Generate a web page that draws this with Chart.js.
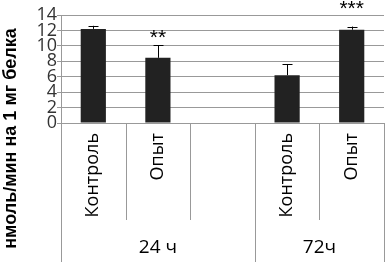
<!DOCTYPE html>
<html>
<head>
<meta charset="utf-8">
<script src="https://cdn.jsdelivr.net/npm/chart.js@4/dist/chart.umd.min.js"></script>
<style>
  html, body { margin: 0; padding: 0; background: #fff; }
  #wrap { width: 386px; height: 262px; }
</style>
</head>
<body>
<div id="wrap"><canvas id="chart"></canvas></div>
<script>
// categories (blank slot separates the two time points)
var categories = ["Контроль", "Опыт", "", "Контроль", "Опыт"];
var means = [12.2, 8.45, null, 6.2, 12.1];
var errUp = [0.4, 1.65, null, 1.45, 0.4];
var sigMarks = ["", "**", "", "", "***"];
var sigAt = [null, 11.6, null, null, 15.4];
var groupLabels = ["24 ч", "72ч"];
var groupFirst = [0, 3];
var groupLast = [2, 4];
var yTicks = [0, 2, 4, 6, 8, 10, 12, 14];
var yTitle = "нмоль/мин на 1 мг белка";

var extras = {
    id: "extras",
    afterDatasetsDraw: function(chart) {
        var ctx = chart.ctx;
        var x = chart.scales.x, y = chart.scales.y;
        var area = chart.chartArea;
        ctx.save();

        // error bars (upper only)
        ctx.strokeStyle = "#000";
        ctx.lineWidth = 1;
        means.forEach(function(m, i) {
            if (m == null) return;
            var px = Math.round(x.getPixelForValue(i)) + 0.5;
            var top = y.getPixelForValue(m + errUp[i]);
            ctx.beginPath();
            ctx.moveTo(px, y.getPixelForValue(m));
            ctx.lineTo(px, top);
            ctx.moveTo(px - 5, Math.round(top) + 0.5);
            ctx.lineTo(px + 5, Math.round(top) + 0.5);
            ctx.stroke();
        });

        // significance marks
        ctx.fillStyle = "#000";
        ctx.font = "21px 'Liberation Sans'";
        ctx.textAlign = "center";
        ctx.textBaseline = "middle";
        sigMarks.forEach(function(s, i) {
            if (!s) return;
            ctx.fillText(s, x.getPixelForValue(i), y.getPixelForValue(sigAt[i]) + 5);
        });

        // category separators below the axis
        ctx.strokeStyle = "#999";
        var bounds = [area.left];
        for (var i = 0; i < categories.length - 1; i++) {
            bounds.push((x.getPixelForValue(i) + x.getPixelForValue(i + 1)) / 2);
        }
        bounds.push(area.right);
        var groupEdges = [0];
        groupLast.forEach(function(g) { groupEdges.push(g + 1); });
        bounds.forEach(function(b, i) {
            var full = groupEdges.indexOf(i) >= 0;
            var bx = Math.round(b) + 0.5;
            ctx.beginPath();
            ctx.moveTo(bx, area.bottom);
            ctx.lineTo(bx, full ? chart.height : area.bottom + 97);
            ctx.stroke();
        });

        // group labels
        ctx.fillStyle = "#000";
        ctx.font = "19px 'Open Sans'";
        groupLabels.forEach(function(g, i) {
            var cx = (bounds[groupFirst[i]] + bounds[groupLast[i] + 1]) / 2;
            ctx.fillText(g, cx, area.bottom + 125);
        });

        // y axis title, centred on the whole axis height
        ctx.translate(11, (area.top + chart.height) / 2);
        ctx.rotate(-Math.PI / 2);
        ctx.font = "bold 18px 'Liberation Sans'";
        ctx.fillText(yTitle, 0, 0);
        ctx.restore();
    }
};

new Chart(document.getElementById("chart"), {
    type: "bar",
    data: {
        labels: categories,
        datasets: [{
            data: means,
            backgroundColor: "#222",
            borderWidth: 0,
            categoryPercentage: 1,
            barPercentage: 0.39
        }]
    },
    options: {
        responsive: true,
        maintainAspectRatio: false,
        animation: false,
        layout: { padding: { top: 15, right: 2, left: 0, bottom: 0 } },
        plugins: { legend: { display: false }, tooltip: { enabled: false } },
        scales: {
            x: {
                grid: { drawOnChartArea: false, drawTicks: false },
                border: { color: "#999" },
                ticks: {
                    autoSkip: false, maxRotation: 90, minRotation: 90, padding: 10,
                    color: "#000", font: { family: "Open Sans", size: 18 }
                },
                afterFit: function(scale) { scale.height = 139; }
            },
            y: {
                min: 0, max: 14,
                afterBuildTicks: function(scale) {
                    scale.ticks = yTicks.map(function(v) { return { value: v }; });
                },
                grid: { color: "#999", tickLength: 4 },
                border: { color: "#999" },
                ticks: {
                    autoSkip: false, padding: 0, color: "#333",
                    font: { family: "Open Sans", size: 18 }
                },
                afterFit: function(scale) { scale.width = 61; }
            }
        }
    },
    plugins: [extras]
});
</script>
</body>
</html>
